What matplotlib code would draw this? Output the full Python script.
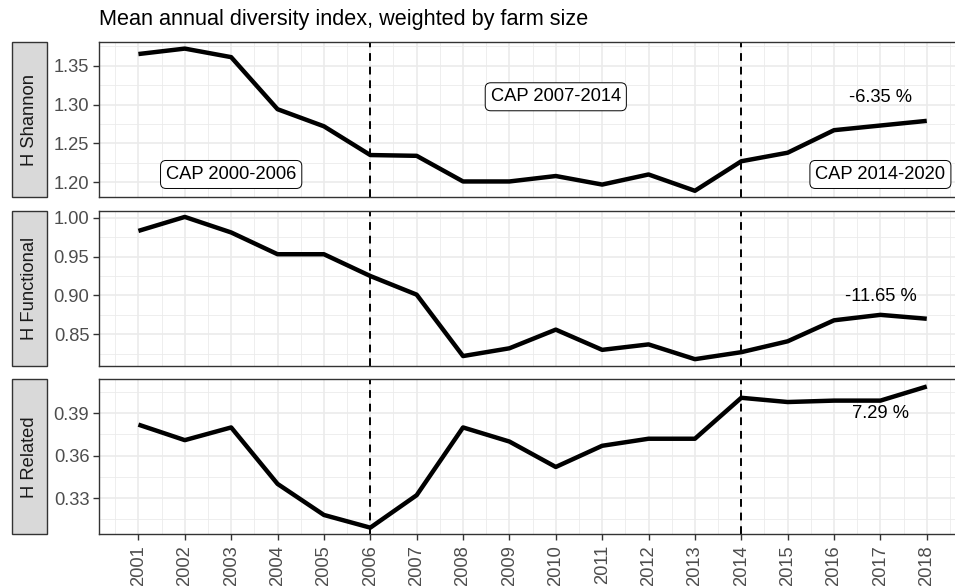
import matplotlib
matplotlib.use("Agg")
import matplotlib.pyplot as plt
from matplotlib.patches import Rectangle
from matplotlib.ticker import MultipleLocator, FixedLocator

plt.rcParams['font.family'] = ['Liberation Sans', 'DejaVu Sans']

years = list(range(2001, 2019))

h_shannon = [1.365, 1.372, 1.361, 1.294, 1.272, 1.235, 1.234, 1.201, 1.201, 1.208,
             1.197, 1.210, 1.189, 1.227, 1.238, 1.267, 1.273, 1.279]
h_functional = [0.983, 1.001, 0.981, 0.953, 0.953, 0.925, 0.901, 0.822, 0.832, 0.856,
                0.830, 0.837, 0.818, 0.827, 0.841, 0.868, 0.875, 0.870]
h_related = [0.382, 0.371, 0.380, 0.340, 0.318, 0.309, 0.332, 0.380, 0.370, 0.352,
             0.367, 0.372, 0.372, 0.401, 0.398, 0.399, 0.399, 0.409]

panel_names = ["H Shannon", "H Functional", "H Related"]
panel_values = [h_shannon, h_functional, h_related]
y_ticks = [[1.20, 1.25, 1.30, 1.35], [0.85, 0.90, 0.95, 1.00], [0.33, 0.36, 0.39]]
y_limits = [(1.181, 1.3805), (0.8096, 1.009), (0.3043, 0.4141)]
y_minor = [0.025, 0.025, 0.015]

policy_breaks = [2006, 2014]
period_labels = ["CAP 2000-2006", "CAP 2007-2014", "CAP 2014-2020"]
period_x = [2003, 2010, 2017]
period_y = [1.21, 1.31, 1.21]
change_labels = ["-6.35 %", "-11.65 %", "7.29 %"]
change_x = [2017, 2017, 2017]
change_y = [1.309, 0.899, 0.390]

W, H = 955, 586
fig = plt.figure(figsize=(W / 100, H / 100), dpi=100)

left_px, right_px = 99, 966.2
panel_px = [(42, 197), (210.7, 365.7), (379.3, 534.3)]
strip_px = (11.7, 46.7)

FS = 13.2
TITLE_FS = 15.6
border_col = "#333333"
grid_col = "#EBEBEB"
tick_col = "#4D4D4D"

xlim = (2001 - 0.05 * 17, 2018 + 0.05 * 17)

for i, (name, vals) in enumerate(zip(panel_names, panel_values)):
    top, bot = panel_px[i]
    ax = fig.add_axes([left_px / W, 1 - bot / H, (right_px - left_px) / W, (bot - top) / H])
    ax.set_xlim(*xlim)
    ax.set_ylim(*y_limits[i])
    ax.xaxis.set_major_locator(FixedLocator(years))
    ax.xaxis.set_minor_locator(FixedLocator([y + 0.5 for y in range(2000, 2019)]))
    ax.yaxis.set_major_locator(FixedLocator(y_ticks[i]))
    ax.yaxis.set_minor_locator(MultipleLocator(y_minor[i]))
    ax.grid(which="major", color=grid_col, lw=1.2, zorder=0)
    ax.grid(which="minor", color=grid_col, lw=0.6, zorder=0)
    ax.set_axisbelow(True)
    for s in ax.spines.values():
        s.set_color(border_col)
        s.set_linewidth(1.0)
    ax.tick_params(axis="y", which="major", length=4.5, width=1.0, color=border_col,
                   labelsize=FS, labelcolor=tick_col, pad=2.5)
    ax.tick_params(which="minor", length=0)
    if i == 2:
        ax.tick_params(axis="x", which="major", length=4.5, width=1.0, color=border_col,
                       labelsize=FS, labelcolor=tick_col, pad=3.2, labelrotation=90)
        ax.set_xticklabels([str(y) for y in years], va="top", ha="center")
    else:
        ax.tick_params(axis="x", which="major", length=0, labelbottom=False)

    for xb in policy_breaks:
        ax.axvline(xb, color="black", lw=1.4, linestyle=(0, (4, 3)), zorder=2)
    ax.plot(years, vals, color="black", lw=3.2, solid_capstyle="butt",
            solid_joinstyle="round", zorder=3)

    if i == 0:
        for lab, lx, ly in zip(period_labels, period_x, period_y):
            ax.text(lx, ly, lab, fontsize=FS, ha="center", va="center", color="black",
                    zorder=4,
                    bbox=dict(boxstyle="round,pad=0.3,rounding_size=0.3", fc="white",
                              ec="black", lw=0.7))
    ax.text(change_x[i], change_y[i], change_labels[i], fontsize=FS, ha="center",
            va="center", color="black", zorder=4)

    # facet strip on the left
    sx0, sx1 = strip_px
    rect = Rectangle((sx0 / W, 1 - bot / H), (sx1 - sx0) / W, (bot - top) / H,
                     transform=fig.transFigure, facecolor="#D9D9D9",
                     edgecolor=border_col, lw=1.0)
    fig.patches.append(rect)
    fig.text((sx0 + sx1) / 2 / W, 1 - (top + bot) / 2 / H, name, rotation=90,
             ha="center", va="center", fontsize=FS, color="#1A1A1A")

fig.text(left_px / W, 1 - 19 / H, "Mean annual diversity index, weighted by farm size",
         ha="left", va="center", fontsize=TITLE_FS, color="black")

fig.savefig("out.png", dpi=100)
